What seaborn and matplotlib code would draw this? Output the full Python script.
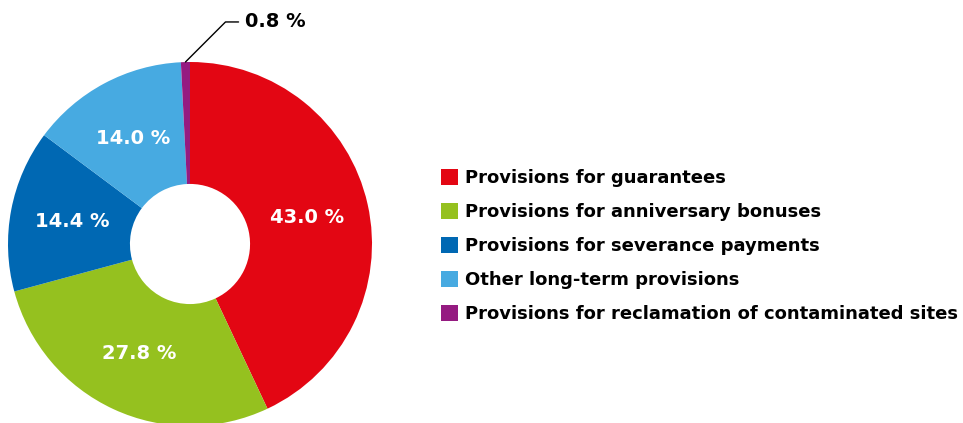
import matplotlib.pyplot as plt
import seaborn as sns
from matplotlib.patches import Patch

categories = ['Provisions for guarantees',
              'Provisions for anniversary bonuses',
              'Provisions for severance payments',
              'Other long-term provisions',
              'Provisions for reclamation of contaminated sites']
shares = [43.0, 27.8, 14.4, 14.0, 0.8]
colors = ['#E30613', '#95C11F', '#0068B3', '#47AAE1', '#951B81']

sns.set_theme(style='white')
plt.rcParams['font.family'] = ['DejaVu Sans']
plt.rcParams['text.color'] = 'black'
palette = sns.color_palette(colors)

fig = plt.figure(figsize=(9.63, 4.23), dpi=100)
r_px = 182
ax = fig.add_axes([(190 - r_px) / 963, (179 - r_px) / 423, 2 * r_px / 963, 2 * r_px / 423])

wedges, texts, autotexts = ax.pie(
    shares, colors=palette, startangle=90, counterclock=False,
    autopct=lambda p: f'{p:.1f} %' if p > 2 else '', pctdistance=0.66,
    wedgeprops=dict(width=0.67, linewidth=0),
    textprops=dict(color='white', fontsize=14, fontweight='bold'))
ax.set_xlim(-1, 1)
ax.set_ylim(-1, 1)
ax.set_aspect('equal')

# small slice gets a leader line
ax.annotate(f'{shares[-1]:.1f} %', xy=(-0.025, 1.0), xytext=(0.30, 1.22),
            fontsize=14, fontweight='bold', color='black', va='center', ha='left',
            arrowprops=dict(arrowstyle='-', color='black', lw=1,
                            connectionstyle='angle,angleA=0,angleB=45,rad=0',
                            shrinkA=2, shrinkB=0))

handles = [Patch(facecolor=c, edgecolor='none') for c in palette]
leg = fig.legend(handles, categories, loc='center left', bbox_to_anchor=(0.4505, 0.418),
                 frameon=False, prop=dict(weight='bold', size=13),
                 handlelength=0.95, handleheight=0.95, handletextpad=0.4,
                 labelspacing=0.88, borderaxespad=0)
for t in leg.get_texts():
    t.set_color('black')

fig.savefig('out.png', dpi=100)
